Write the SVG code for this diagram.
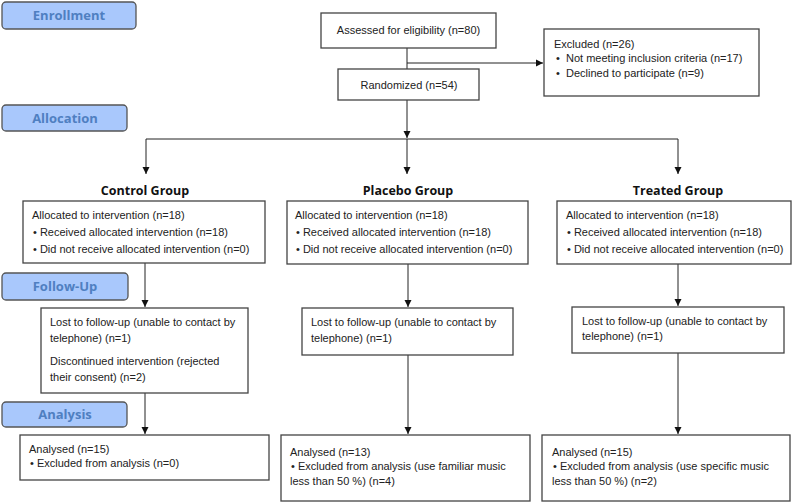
<svg xmlns="http://www.w3.org/2000/svg" width="800" height="502" viewBox="0 0 800 502">
<defs>
<marker id="ah" markerWidth="8" markerHeight="8" refX="7" refY="4" orient="auto" markerUnits="userSpaceOnUse">
<path d="M0,0.5 L7,4 L0,7.5 Z" fill="#111"/>
</marker>
<style>
.lbl{fill:#a9c8fc;stroke:#555;stroke-width:1.3}
.lt{font-family:"Open Sans","Liberation Sans",sans-serif;font-weight:bold;font-size:13px;fill:#4f7fc1;text-anchor:middle}
.box{fill:#fff;stroke:#444;stroke-width:1.3}
.t{font-family:"Liberation Sans",Arial,sans-serif;font-size:11px;fill:#222}
.gt{font-family:"Open Sans","Liberation Sans",sans-serif;font-weight:bold;font-size:12.5px;fill:#111;text-anchor:middle}
.c{stroke:#222;stroke-width:1;fill:none}
</style>
</defs>
<rect width="800" height="502" fill="#fff"/>

<g id="label-enrollment"><rect class="lbl" x="2" y="2" width="134" height="27" rx="4"/><text class="lt" x="69" y="20">Enrollment</text></g>
<g id="label-allocation"><rect class="lbl" x="2" y="105" width="125" height="26" rx="4"/><text class="lt" x="65" y="123">Allocation</text></g>
<g id="label-followup"><rect class="lbl" x="2" y="273" width="126" height="27" rx="4"/><text class="lt" x="65" y="291">Follow-Up</text></g>
<g id="label-analysis"><rect class="lbl" x="2" y="402" width="125" height="25" rx="4"/><text class="lt" x="65" y="419">Analysis</text></g>

<g id="connectors">
<line class="c" x1="407" y1="48" x2="407" y2="69"/>
<line class="c" x1="407" y1="63" x2="543" y2="63" marker-end="url(#ah)"/>
<line class="c" x1="407" y1="100" x2="407" y2="138" marker-end="url(#ah)"/>
<line class="c" x1="146" y1="139" x2="678" y2="139"/>
<line class="c" x1="146" y1="139" x2="146" y2="174" marker-end="url(#ah)"/>
<line class="c" x1="407" y1="139" x2="407" y2="174" marker-end="url(#ah)"/>
<line class="c" x1="678" y1="139" x2="678" y2="174" marker-end="url(#ah)"/>
<line class="c" x1="145" y1="263" x2="145" y2="307" marker-end="url(#ah)"/>
<line class="c" x1="408" y1="264" x2="408" y2="307" marker-end="url(#ah)"/>
<line class="c" x1="678" y1="264" x2="678" y2="306" marker-end="url(#ah)"/>
<line class="c" x1="145" y1="393" x2="145" y2="434" marker-end="url(#ah)"/>
<line class="c" x1="408" y1="355" x2="408" y2="434" marker-end="url(#ah)"/>
<line class="c" x1="678" y1="353" x2="678" y2="434" marker-end="url(#ah)"/>
</g>

<g id="assessed"><rect class="box" x="321" y="13" width="175" height="35"/><text class="t" x="408.5" y="34" text-anchor="middle">Assessed for eligibility (n=80)</text></g>
<g id="randomized"><rect class="box" x="338" y="69" width="141" height="31"/><text class="t" x="409" y="89" text-anchor="middle">Randomized (n=54)</text></g>
<g id="excluded"><rect class="box" x="544" y="29" width="215" height="67"/>
<text class="t" x="554" y="48">Excluded (n=26)</text>
<text class="t" x="556" y="62">•</text><text class="t" x="566" y="62">Not meeting inclusion criteria (n=17)</text>
<text class="t" x="556" y="77">•</text><text class="t" x="566" y="77">Declined to participate (n=9)</text>
</g>

<g id="title-control"><text class="gt" x="145" y="195">Control Group</text></g>
<g id="title-placebo"><text class="gt" x="408" y="195">Placebo Group</text></g>
<g id="title-treated"><text class="gt" x="678" y="195">Treated Group</text></g>

<g id="alloc-control"><rect class="box" x="23" y="201" width="242" height="62"/>
<text class="t" x="32" y="219">Allocated to intervention (n=18)</text>
<text class="t" x="33" y="236">• Received allocated intervention (n=18)</text>
<text class="t" x="33" y="253">• Did not receive allocated intervention (n=0)</text>
</g>
<g id="alloc-placebo"><rect class="box" x="287" y="201" width="241" height="63"/>
<text class="t" x="295" y="219">Allocated to intervention (n=18)</text>
<text class="t" x="296" y="236">• Received allocated intervention (n=18)</text>
<text class="t" x="296" y="253">• Did not receive allocated intervention (n=0)</text>
</g>
<g id="alloc-treated"><rect class="box" x="557" y="201" width="234" height="63"/>
<text class="t" x="566" y="219">Allocated to intervention (n=18)</text>
<text class="t" x="567" y="236">• Received allocated intervention (n=18)</text>
<text class="t" x="567" y="253">• Did not receive allocated intervention (n=0)</text>
</g>

<g id="follow-control"><rect class="box" x="41" y="308" width="207" height="85"/>
<text class="t" x="50" y="326">Lost to follow-up (unable to contact by</text>
<text class="t" x="50" y="342">telephone) (n=1)</text>
<text class="t" x="50" y="365">Discontinued intervention (rejected</text>
<text class="t" x="50" y="381">their consent) (n=2)</text>
</g>
<g id="follow-placebo"><rect class="box" x="302" y="308" width="211" height="47"/>
<text class="t" x="311" y="326">Lost to follow-up (unable to contact by</text>
<text class="t" x="311" y="342">telephone) (n=1)</text>
</g>
<g id="follow-treated"><rect class="box" x="572" y="307" width="212" height="46"/>
<text class="t" x="582" y="325">Lost to follow-up (unable to contact by</text>
<text class="t" x="582" y="340">telephone) (n=1)</text>
</g>

<g id="analysis-control"><rect class="box" x="20" y="435" width="249" height="45"/>
<text class="t" x="29" y="453">Analysed (n=15)</text>
<text class="t" x="30" y="467">• Excluded from analysis (n=0)</text>
</g>
<g id="analysis-placebo"><rect class="box" x="281" y="435" width="249" height="66"/>
<text class="t" x="290" y="456">Analysed (n=13)</text>
<text class="t" x="291" y="470">• Excluded from analysis (use  familiar music</text>
<text class="t" x="290" y="485">less than 50  %) (n=4)</text>
</g>
<g id="analysis-treated"><rect class="box" x="542" y="435" width="248" height="66"/>
<text class="t" x="552" y="456">Analysed (n=15)</text>
<text class="t" x="553" y="470">• Excluded from analysis (use  specific music</text>
<text class="t" x="552" y="485">less than 50  %) (n=2)</text>
</g>
</svg>
